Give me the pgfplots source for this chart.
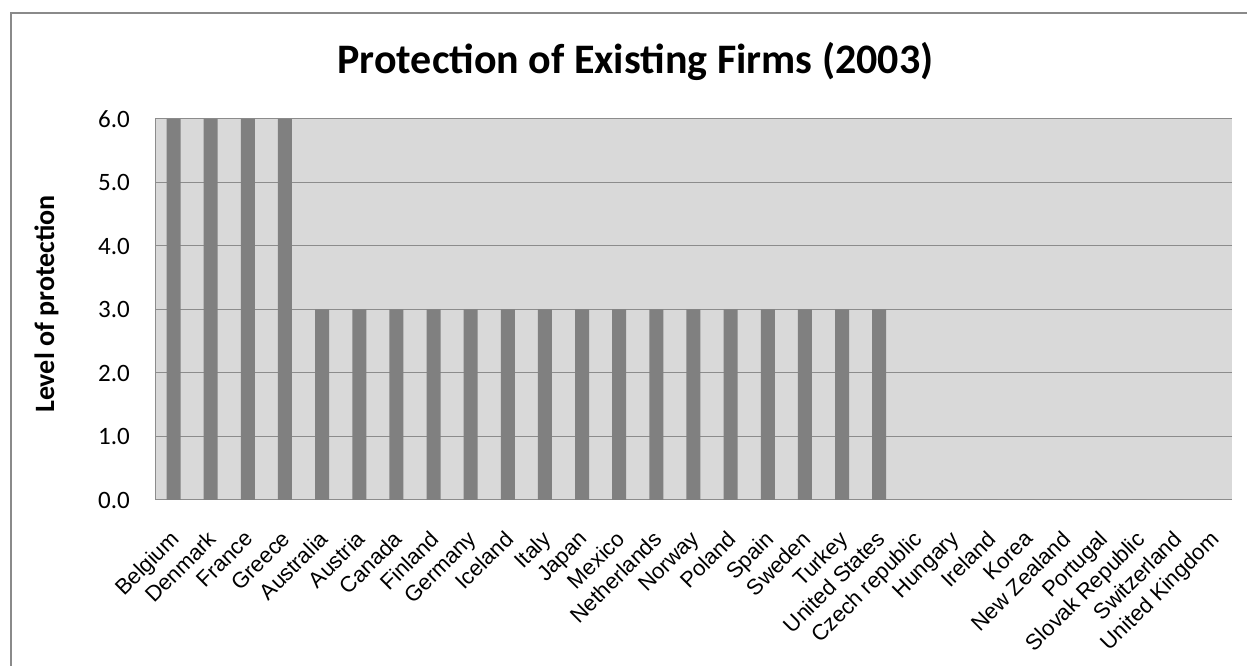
\documentclass[border=0pt]{standalone}
\usepackage{pgfplots}
\pgfplotsset{compat=1.18}
\usepackage{fontspec}
\setmainfont{Carlito}
\newfontfamily\arialfont{Liberation Sans}
\definecolor{plotbg}{HTML}{D9D9D9}
\definecolor{barcol}{HTML}{808080}
\definecolor{gridcol}{HTML}{8C8C8C}
\definecolor{bordercol}{HTML}{8A8A8A}
\begin{document}
\begin{tikzpicture}[x=1pt,y=1pt]
\useasboundingbox (0,0) rectangle (1247,666);
\draw[bordercol, line width=1.5pt] (11,0) -- (11,653) -- (1247,653);
\node[anchor=base, font=\bfseries\fontsize{42}{42}\selectfont] at (635.5,592) {Protection of Existing Firms (2003)};
\node[anchor=base, rotate=90, font=\bfseries\fontsize{28}{28}\selectfont] at (54,362) {Level of protection};
\begin{axis}[
  at={(155pt,166pt)}, anchor=south west,
  scale only axis, width=1077pt, height=381pt,
  xmin=-0.5, xmax=28.5, ymin=0, ymax=6,
  axis background/.style={fill=plotbg},
  axis x line*=bottom, axis y line*=left,
  axis line style={gridcol, line width=1pt, -},
  ymajorgrids, grid style={gridcol, line width=1pt},
  major tick length=0pt,
  ytick={0,1,2,3,4,5,6},
  /pgf/number format/assume math mode=true,
  yticklabel style={font=\fontsize{25}{25}\selectfont, inner sep=0pt, xshift=-25pt,
    /pgf/number format/.cd, fixed, fixed zerofill, precision=1},
  xtick=data,
  xticklabels={Belgium,Denmark,France,Greece,Australia,Austria,Canada,Finland,Germany,Iceland,Italy,Japan,Mexico,Netherlands,Norway,Poland,Spain,Sweden,Turkey,United States,Czech republic,Hungary,Ireland,Korea,New Zealand,Portugal,Slovak Republic,Switzerland,United Kingdom},
  xticklabel style={font=\arialfont\fontsize{22}{22}\selectfont, rotate=45, anchor=north east, inner sep=0pt, xshift=-6pt},
  xticklabel shift=25pt,
]
\addplot[ybar, bar width=14pt, fill=barcol, draw=none] coordinates {
(0,6) (1,6) (2,6) (3,6)
(4,3) (5,3) (6,3) (7,3) (8,3) (9,3) (10,3) (11,3) (12,3) (13,3) (14,3) (15,3) (16,3) (17,3) (18,3) (19,3)
(20,0) (21,0) (22,0) (23,0) (24,0) (25,0) (26,0) (27,0) (28,0)
};
\end{axis}
\end{tikzpicture}
\end{document}
